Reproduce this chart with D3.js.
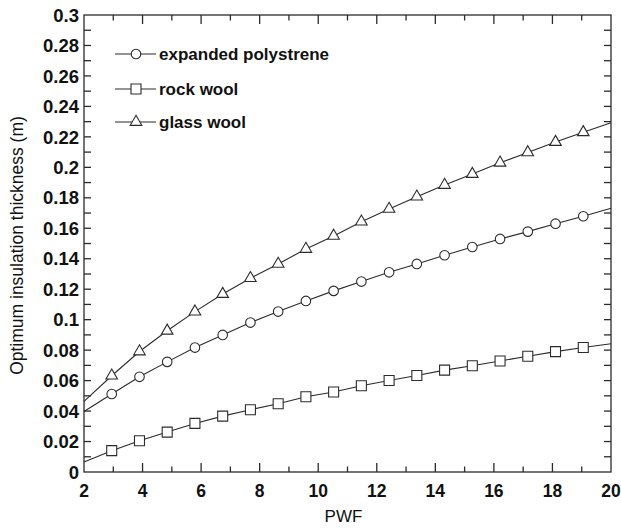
<!DOCTYPE html>
<html>
<head>
<meta charset="utf-8">
<script src="https://cdn.jsdelivr.net/npm/d3@7"></script>
<style>
  html, body { margin: 0; padding: 0; background: #fff; }
  svg { display: block; }
</style>
</head>
<body>
<div id="graphic"></div>
<script>
'use strict';

// PWF sample points: 20 evenly spaced between 2 and 20 (markers on the inner 18)
const pwf = [2, 2.947, 3.895, 4.842, 5.789, 6.737, 7.684, 8.632, 9.579, 10.526,
  11.474, 12.421, 13.368, 14.316, 15.263, 16.211, 17.158, 18.105, 19.053, 20];

const polystrene = [0.0397, 0.0512, 0.0625, 0.0723, 0.0817, 0.0900, 0.0981, 0.1053, 0.1123, 0.1189,
  0.1250, 0.1311, 0.1366, 0.1423, 0.1477, 0.1530, 0.1578, 0.1630, 0.1679, 0.1731];
const rockWool = [0.0066, 0.0140, 0.0205, 0.0262, 0.0319, 0.0367, 0.0409, 0.0448, 0.0494, 0.0525,
  0.0566, 0.0601, 0.0633, 0.0669, 0.0697, 0.0729, 0.0760, 0.0790, 0.0817, 0.0842];
const glassWool = [0.0463, 0.0632, 0.0791, 0.0927, 0.1053, 0.1168, 0.1272, 0.1366, 0.1464, 0.1550,
  0.1643, 0.1727, 0.1807, 0.1884, 0.1956, 0.2030, 0.2098, 0.2166, 0.2230, 0.2292];

const seriesNames = [`expanded polystrene`, `rock wool`, `glass wool`];
const seriesSymbols = [`circle`, `square`, `triangle`];

const xTicks = [2, 4, 6, 8, 10, 12, 14, 16, 18, 20];
const yTicks = [0, 0.02, 0.04, 0.06, 0.08, 0.1, 0.12, 0.14, 0.16, 0.18, 0.2, 0.22, 0.24, 0.26, 0.28, 0.3];

(function (d3) {
  const width = 621;
  const height = 528;
  const margin = { top: 15, right: 10, bottom: 56, left: 84 };
  const ink = `#2b2b2b`;

  const x = d3.scaleLinear().domain([2, 20]).range([margin.left, width - margin.right]);
  const y = d3.scaleLinear().domain([0, 0.3]).range([height - margin.bottom, margin.top]);

  const svg = d3
    .select(`div#graphic`)
    .append(`svg`)
    .attr(`width`, width)
    .attr(`height`, height)
    .attr(`font-family`, `Liberation Sans, Arial, sans-serif`);

  const xMinor = d3.range(3, 20, 2);
  const yMinor = d3.range(0.01, 0.3, 0.02);

  // Axes with inward ticks on all four sides
  const axisG = svg.append(`g`).attr(`stroke`, ink).attr(`stroke-width`, 1.3);

  const x0 = x.range()[0], x1 = x.range()[1];
  const y0 = y.range()[0], y1 = y.range()[1];

  axisG.append(`rect`)
    .attr(`x`, x0).attr(`y`, y1)
    .attr(`width`, x1 - x0).attr(`height`, y0 - y1)
    .attr(`fill`, `none`);

  const xTickData = xTicks.map((d) => ({ v: d, len: 9 })).concat(xMinor.map((d) => ({ v: d, len: 5.5 })));
  axisG.selectAll(`line.xb`)
    .data(xTickData.filter((d) => d.v > 2 && d.v < 20))
    .join(`line`)
    .attr(`x1`, (d) => x(d.v)).attr(`x2`, (d) => x(d.v))
    .attr(`y1`, y0).attr(`y2`, (d) => y0 - d.len);
  axisG.selectAll(`line.xt`)
    .data(xTickData.filter((d) => d.v > 2 && d.v < 20))
    .join(`line`)
    .attr(`x1`, (d) => x(d.v)).attr(`x2`, (d) => x(d.v))
    .attr(`y1`, y1).attr(`y2`, (d) => y1 + d.len);

  const yTickData = yTicks.concat(yMinor).filter((d) => d > 0.001 && d < 0.299);
  axisG.selectAll(`line.yl`)
    .data(yTickData)
    .join(`line`)
    .attr(`x1`, x0).attr(`x2`, x0 + 7)
    .attr(`y1`, (d) => y(d)).attr(`y2`, (d) => y(d));
  axisG.selectAll(`line.yr`)
    .data(yTickData)
    .join(`line`)
    .attr(`x1`, x1).attr(`x2`, x1 - 7)
    .attr(`y1`, (d) => y(d)).attr(`y2`, (d) => y(d));

  // Tick labels
  svg.append(`g`)
    .attr(`font-size`, 17.5)
    .attr(`font-weight`, `bold`)
    .attr(`text-anchor`, `middle`)
    .attr(`fill`, `#111`)
    .selectAll(`text`)
    .data(xTicks)
    .join(`text`)
    .attr(`x`, (d) => x(d))
    .attr(`y`, y0 + 25)
    .text((d) => d);

  svg.append(`g`)
    .attr(`font-size`, 18.5)
    .attr(`font-weight`, `bold`)
    .attr(`text-anchor`, `end`)
    .attr(`fill`, `#111`)
    .selectAll(`text`)
    .data(yTicks)
    .join(`text`)
    .attr(`x`, x0 - 5)
    .attr(`y`, (d) => y(d))
    .attr(`dy`, `0.36em`)
    .text((d) => d3.format(`~g`)(d));

  // Axis titles
  svg.append(`text`)
    .attr(`x`, (x0 + x1) / 2 - 4)
    .attr(`y`, height - 6)
    .attr(`text-anchor`, `middle`)
    .attr(`font-size`, 17)
    .attr(`fill`, `#111`)
    .text(`PWF`);

  svg.append(`text`)
    .attr(`transform`, `translate(23,${(y0 + y1) / 2 + 2}) rotate(-90)`)
    .attr(`text-anchor`, `middle`)
    .attr(`font-size`, 17.5)
    .attr(`fill`, `#111`)
    .text(`Optimum insulation thickness (m)`);

  // Series
  const series = [polystrene, rockWool, glassWool].map((vals, i) => ({
    name: seriesNames[i],
    symbol: seriesSymbols[i],
    points: vals.map((v, j) => ({ x: pwf[j], y: v }))
  }));

  const symbolOf = {
    circle: d3.symbol().type(d3.symbolCircle).size(72),
    square: d3.symbol().type(d3.symbolSquare).size(100),
    triangle: d3.symbol().type(d3.symbolTriangle).size(58)
  };

  const line = d3.line().x((d) => x(d.x)).y((d) => y(d.y));

  const plot = svg.append(`g`);
  series.forEach((s) => {
    plot.append(`path`)
      .attr(`d`, line(s.points))
      .attr(`fill`, `none`)
      .attr(`stroke`, ink)
      .attr(`stroke-width`, 1.1);
    plot.append(`g`)
      .selectAll(`path`)
      .data(s.points.slice(1, -1))
      .join(`path`)
      .attr(`transform`, (d) => `translate(${x(d.x)},${y(d.y)})`)
      .attr(`d`, symbolOf[s.symbol]())
      .attr(`fill`, `white`)
      .attr(`stroke`, ink)
      .attr(`stroke-width`, 1.1);
  });

  // Legend
  const legend = svg.append(`g`);
  const legendY = [54, 89, 122];
  series.forEach((s, i) => {
    const g = legend.append(`g`).attr(`transform`, `translate(0,${legendY[i]})`);
    g.append(`line`)
      .attr(`x1`, 115).attr(`x2`, 156)
      .attr(`stroke`, ink).attr(`stroke-width`, 1.1);
    g.append(`path`)
      .attr(`transform`, `translate(136,0)`)
      .attr(`d`, symbolOf[s.symbol]())
      .attr(`fill`, `white`)
      .attr(`stroke`, ink)
      .attr(`stroke-width`, 1.1);
    g.append(`text`)
      .attr(`x`, 159)
      .attr(`dy`, `0.36em`)
      .attr(`font-size`, 17)
      .attr(`font-weight`, `bold`)
      .attr(`fill`, `#111`)
      .text(s.name);
  });
})(d3);
</script>
</body>
</html>
